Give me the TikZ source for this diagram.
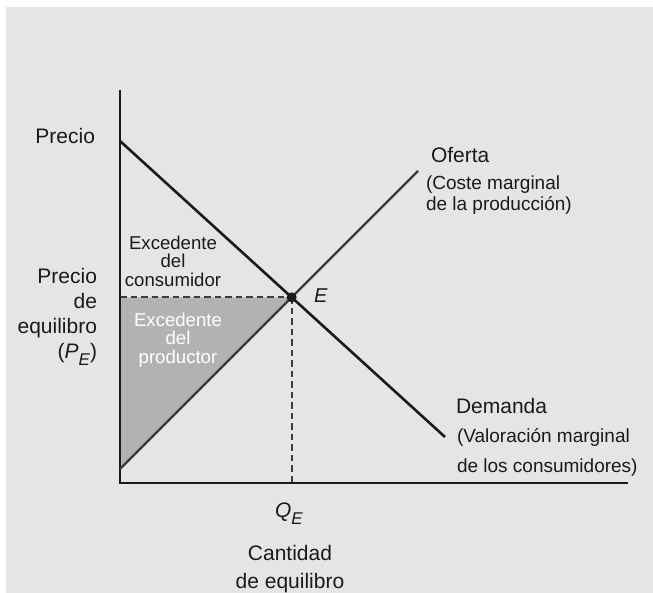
\documentclass[tikz,border=0pt]{standalone}
\usepackage{fontspec}
\setmainfont{Liberation Sans}
\usetikzlibrary{positioning}
\definecolor{bgcol}{HTML}{E5E5E5}
\definecolor{surpcol}{HTML}{B2B2B4}
\definecolor{supcol}{HTML}{3A3A3A}
\definecolor{demcol}{HTML}{1A1A1A}
\newcommand{\lowsub}[1]{{\fontsize{17}{17}\selectfont\raisebox{-7.5pt}{\textit{#1}}}}
\tikzset{
  % axes
  axisline/.style={line width=1.5pt, demcol},
  % supply and demand curves
  demcurve/.style={line width=2.6pt, demcol},
  supcurve/.style={line width=2.3pt, supcol},
  % equilibrium guides
  guideline/.style={line width=1.8pt, dash pattern=on 6.5pt off 4pt, demcol!85},
  % equilibrium point
  eqdot/.style={circle, fill=demcol, inner sep=0pt, minimum size=10pt},
  % text labels
  lbl/.style={inner sep=0pt, outer sep=0pt, text=demcol, font=\fontsize{21}{#1}\selectfont},
  lbl/.default={24},
  % curve notes
  notelbl/.style={inner sep=0pt, outer sep=0pt, text=demcol, font=\fontsize{19}{#1}\selectfont},
  notelbl/.default={22},
  % surplus areas
  arealbl/.style={inner sep=0pt, outer sep=0pt, text=demcol, align=center, font=\fontsize{18.6}{18.5}\selectfont},
}

\begin{document}
\begin{tikzpicture}[x=1pt, y=-1pt]
  % background
  \fill[white] (0,0) rectangle (653,593);
  \fill[bgcol] (6,7) rectangle (653,593);
  \useasboundingbox (0,0) rectangle (653,593);

  % axes
  \coordinate (O) at (120,483);
  \coordinate (ytop) at (120,90);
  \coordinate (xend) at (628,483);

  % curve ends
  \coordinate (d0) at (120,141);
  \coordinate (d1) at (445,437);
  \coordinate (s0) at (120,469);
  \coordinate (s1) at (418,171);
  \coordinate (E) at (intersection of d0--d1 and s0--s1);
  \coordinate (PE) at (O |- E);
  \coordinate (QE) at (E |- O);

  % producer surplus
  \fill[surpcol] (PE) -- (E) -- (s0) -- cycle;

  \draw[guideline] (PE) -- (E);
  \draw[guideline] (E) -- (QE);

  \draw[axisline] (ytop) -- (O) -- (xend);
  \draw[supcurve] (s0) -- (s1);
  \draw[demcurve] (d0) -- (d1);
  \node[eqdot] (Edot) at (E) {};

  % labels
  \node[lbl, anchor=base east] (price) at (95,144) {Precio};
  \node[lbl=25, anchor=north east, align=right] (eqprice) at (97,268)
    {Precio\\de\\equilibro\\(\textit{P}\lowsub{E})};
  \node[arealbl, anchor=north] (cons) at (173,236)
    {Excedente\\del\\consumidor};
  \node[arealbl, anchor=north, text=white] (prod) at (178,313)
    {Excedente\\del\\productor};
  \node[lbl, font=\fontsize{20}{20}\selectfont, anchor=west] (Elbl) at (314,296) {\textit{E}};

  \node[lbl, anchor=base west] (sup) at (431,163) {Oferta};
  \node[notelbl=20.5, anchor=north west, align=left] (supnote) at (426,176)
    {(Coste marginal\\de la producción)};
  \node[lbl, anchor=base west] (dem) at (456,413) {Demanda};
  \node[notelbl=29.5, anchor=north west, align=left] (demnote) at (457,429)
    {(Valoración marginal\\de los consumidores)};

  \node[lbl, anchor=base] (qlbl) at (289,517) {\textit{Q}\lowsub{E}};
  \node[lbl=28, anchor=north, align=center] (qname) at (290,545)
    {Cantidad\\de equilibro};
\end{tikzpicture}
\end{document}
